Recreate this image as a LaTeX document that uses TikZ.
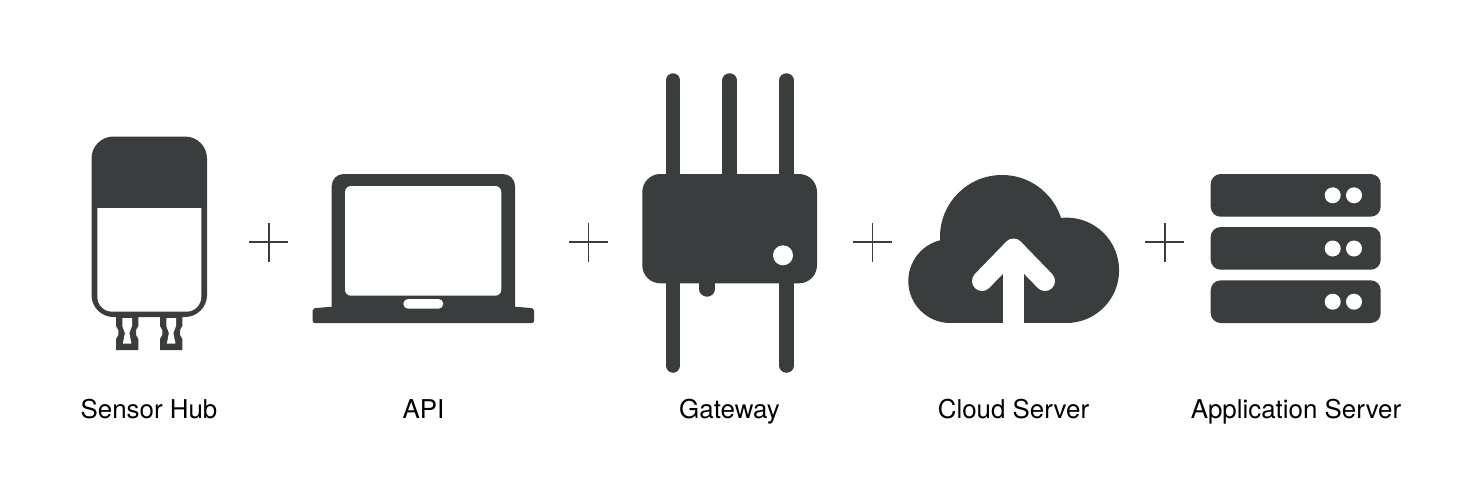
\documentclass[tikz,border=0pt]{standalone}
\usepackage{fontspec}
\setmainfont{TeX Gyre Heros}
\definecolor{ink}{HTML}{393D3D}
\tikzset{
  every picture/.style={x=1pt,y=-1pt},
  antenna/.style={draw=ink,line width=14.5pt,line cap=round},
  plus/.style={draw=ink,line width=1.7pt},
  caption/.style={font=\fontsize{25.9}{30}\selectfont,text=black,inner sep=0pt,anchor=base}
}
\newcommand{\plusmark}[2]{\draw[plus] (#1-19.5,#2) -- (#1+19.5,#2) (#1,#2-19.5) -- (#1,#2+19.5);}
\newcommand{\legshape}[1]{%
  \fill[ink] (#1,316) -- (#1+22.3,316) -- (#1+22.3,326) -- (#1+20,330) -- (#1+20,335) -- (#1+22.3,339) -- (#1+22.3,350) -- (#1,350) -- (#1,339) -- (#1+2.3,335) -- (#1+2.3,330) -- (#1,326) -- cycle;
  \fill[white] (#1+6.3,318) -- (#1+16,318) -- (#1+16,326) -- (#1+13.4,333) -- (#1+15.4,343.5) -- (#1+6.9,343.5) -- (#1+8.9,333) -- (#1+6.3,326) -- cycle;
}
\begin{document}
\begin{tikzpicture}
\useasboundingbox (0,0) rectangle (1459,499);
\fill[white] (0,0) rectangle (1459,499);
% sensor hub
\legshape{116}
\legshape{160}
\fill[ink,rounded corners=22pt] (91.5,136.5) rectangle (207,317);
\fill[white,rounded corners=15pt] (97.3,190) rectangle (201.3,311.7);
\fill[ink] (97,190) rectangle (201.6,207.7);
% api
\fill[ink,rounded corners=12pt] (331.7,174) rectangle (515,320);
\fill[ink,rounded corners=2pt] (332,306.7) -- (312.7,308.3) -- (312.7,323) -- (534,323) -- (534,308.3) -- (515,306.7) -- cycle;
\fill[white,rounded corners=6pt] (345,186) rectangle (501.3,295.7);
\fill[white,rounded corners=4.8pt] (403.3,299) rectangle (443.3,308.7);
% gateway
\draw[antenna] (673,80.5) -- (673,365.5);
\draw[antenna] (729.7,80.5) -- (729.7,200);
\draw[antenna] (786.5,80.5) -- (786.5,365.5);
\draw[draw=ink,line width=15.4pt,line cap=round] (707,270) -- (707,289);
\fill[ink,rounded corners=18pt] (642.3,174) rectangle (817,283.3);
\fill[white] (783,255.3) circle[radius=10];
% cloud
\fill[ink] (1002,237) circle[radius=62];
\fill[ink] (950.3,281) circle[radius=42];
\fill[ink] (1066.4,270.3) circle[radius=52.7];
\fill[ink] (950,240) rectangle (1066,323);
\draw[white,line width=20pt,line cap=round,line join=round] (982,281) -- (1013.5,248.5) -- (1045,281);
\fill[white] (1003.3,260) rectangle (1024,323.5);
% app server
\foreach \t/\d in {174/195.3,227/248.5,280.3/301.7}{
  \fill[ink,rounded corners=10pt] (1210.7,\t) rectangle (1380.7,\t+42.7);
  \fill[white] (1332.7,\d) circle[radius=8];
  \fill[white] (1354,\d) circle[radius=8];
}
% plus signs
\plusmark{268.7}{242.3}
\plusmark{588.5}{242.3}
\plusmark{872.5}{242.3}
\plusmark{1164.7}{242.3}
% labels
\node[caption] (hub) at (149,418) {Sensor Hub};
\node[caption] (api) at (423.5,418) {API};
\node[caption] (gw) at (729.5,418) {Gateway};
\node[caption] (cloud) at (1013.5,418) {Cloud Server};
\node[caption] (app) at (1296,418) {Application Server};
\end{tikzpicture}
\end{document}
